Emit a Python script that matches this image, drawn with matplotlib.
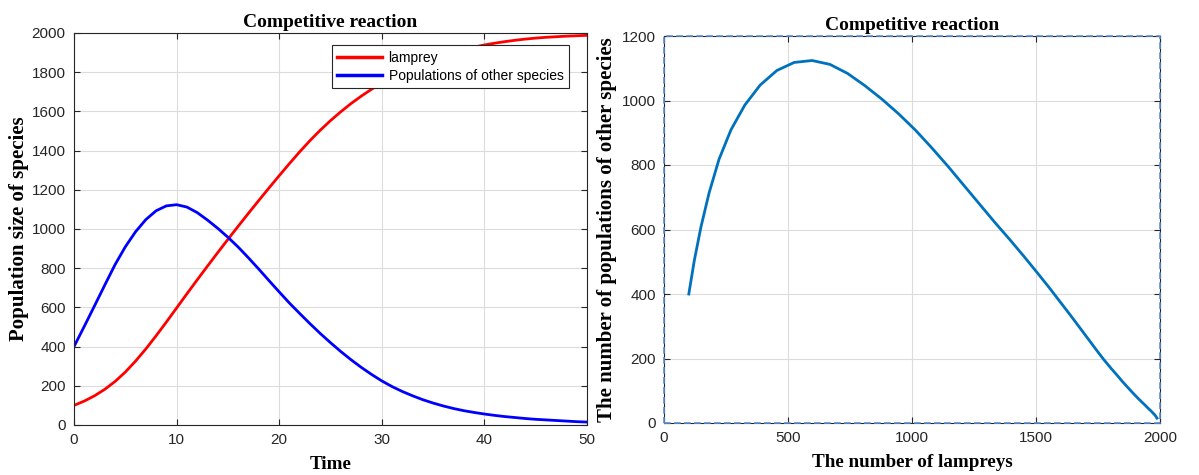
import numpy as np
import matplotlib
matplotlib.use('Agg')
import matplotlib.pyplot as plt
from matplotlib.patches import Rectangle

# Values (time step 1)
time = list(range(0, 51))

lamprey = [100, 122, 149, 182, 222, 270, 326, 388, 455, 525,
           597, 669, 740, 810, 879, 947, 1014, 1080, 1145, 1209,
           1272, 1334, 1394, 1451, 1504, 1553, 1598, 1640, 1678, 1713,
           1745, 1774, 1801, 1826, 1848, 1868, 1886, 1902, 1916, 1928,
           1939, 1948, 1956, 1963, 1969, 1974, 1978, 1981, 1984, 1986,
           1988]

others = [400, 503, 608, 714, 818, 909, 986, 1048, 1093, 1118,
          1124, 1112, 1084, 1046, 1004, 958, 908, 853, 796, 737,
          679, 622, 569, 517, 467, 420, 375, 333, 294, 258,
          225, 196, 171, 149, 129, 112, 97, 84, 73, 64,
          56, 49, 43, 38, 33, 29, 26, 23, 20, 17,
          15]

left_yticks = [0, 200, 400, 600, 800, 1000, 1200, 1400, 1600, 1800, 2000]
left_xticks = [0, 10, 20, 30, 40, 50]
right_xticks = [0, 500, 1000, 1500, 2000]
right_yticks = [0, 200, 400, 600, 800, 1000, 1200]

title_txt = 'Competitive reaction'
serif = 'Liberation Serif'
sans = 'Liberation Sans'
axis_col = '#262626'


def style_axes(ax):
    # MATLAB-like look: box on, ticks inside on all sides, light grid
    ax.grid(True, color='#dcdcdc', linewidth=0.8)
    ax.set_axisbelow(True)
    ax.tick_params(direction='in', top=True, right=True, length=4, width=0.8,
                   colors=axis_col, labelsize=11, pad=6)
    for lab in ax.get_xticklabels() + ax.get_yticklabels():
        lab.set_fontfamily(sans)
    for sp in ax.spines.values():
        sp.set_color(axis_col)
        sp.set_linewidth(0.8)


def add_labels(ax, xlab, ylab, xpos, ypos):
    ax.set_title(title_txt, fontfamily=serif, fontweight='bold', fontsize=14, pad=4)
    ax.set_xlabel(xlab, fontfamily=serif, fontweight='bold', fontsize=13.7)
    ax.set_ylabel(ylab, fontfamily=serif, fontweight='bold', fontsize=15)
    ax.xaxis.label.set_va('center')
    ax.yaxis.label.set_va('center')
    ax.xaxis.set_label_coords(0.5, xpos)
    ax.yaxis.set_label_coords(ypos, 0.5)


fig = plt.figure(figsize=(11.99, 4.75), dpi=100)

# left panel: populations vs time
ax1 = fig.add_axes([74 / 1199, 50 / 475, 513 / 1199, 392 / 475])
ax1.plot(time, lamprey, color='r', linewidth=2, label='lamprey')
ax1.plot(time, others, color='b', linewidth=2, label='Populations of other species')
ax1.set_xlim(0, 50)
ax1.set_ylim(0, 2000)
ax1.set_xticks(left_xticks)
ax1.set_yticks(left_yticks)
style_axes(ax1)
add_labels(ax1, 'Time', 'Population size of species', -0.0995, -0.108)
leg = ax1.legend(loc='upper right', bbox_to_anchor=(0.965, 0.969), borderaxespad=0,
                 prop={'family': sans, 'size': 10},
                 frameon=True, fancybox=False, framealpha=1, edgecolor=axis_col,
                 handlelength=3.2, borderpad=0.4, labelspacing=0.3, handletextpad=0.5)
leg.get_frame().set_linewidth(0.8)
for line in leg.get_lines():
    line.set_linewidth(2.5)

# right panel: phase plot
ax2 = fig.add_axes([664 / 1199, 52 / 475, 496 / 1199, 387 / 475])
ax2.plot(lamprey, others, color='#0072BD', linewidth=2)
ax2.set_xlim(0, 2000)
ax2.set_ylim(0, 1200)
ax2.set_xticks(right_xticks)
ax2.set_yticks(right_yticks)
style_axes(ax2)
add_labels(ax2, 'The number of lampreys', 'The number of populations of other species', -0.1008, -0.115)

# dashed selection frame around the right axes
ax2.add_patch(Rectangle((0, 0), 1, 1, transform=ax2.transAxes, fill=False,
                        edgecolor='#5b8fd6', linestyle=(0, (4, 2)), linewidth=1.2,
                        clip_on=False, zorder=5))

fig.savefig('out.png', dpi=100)
